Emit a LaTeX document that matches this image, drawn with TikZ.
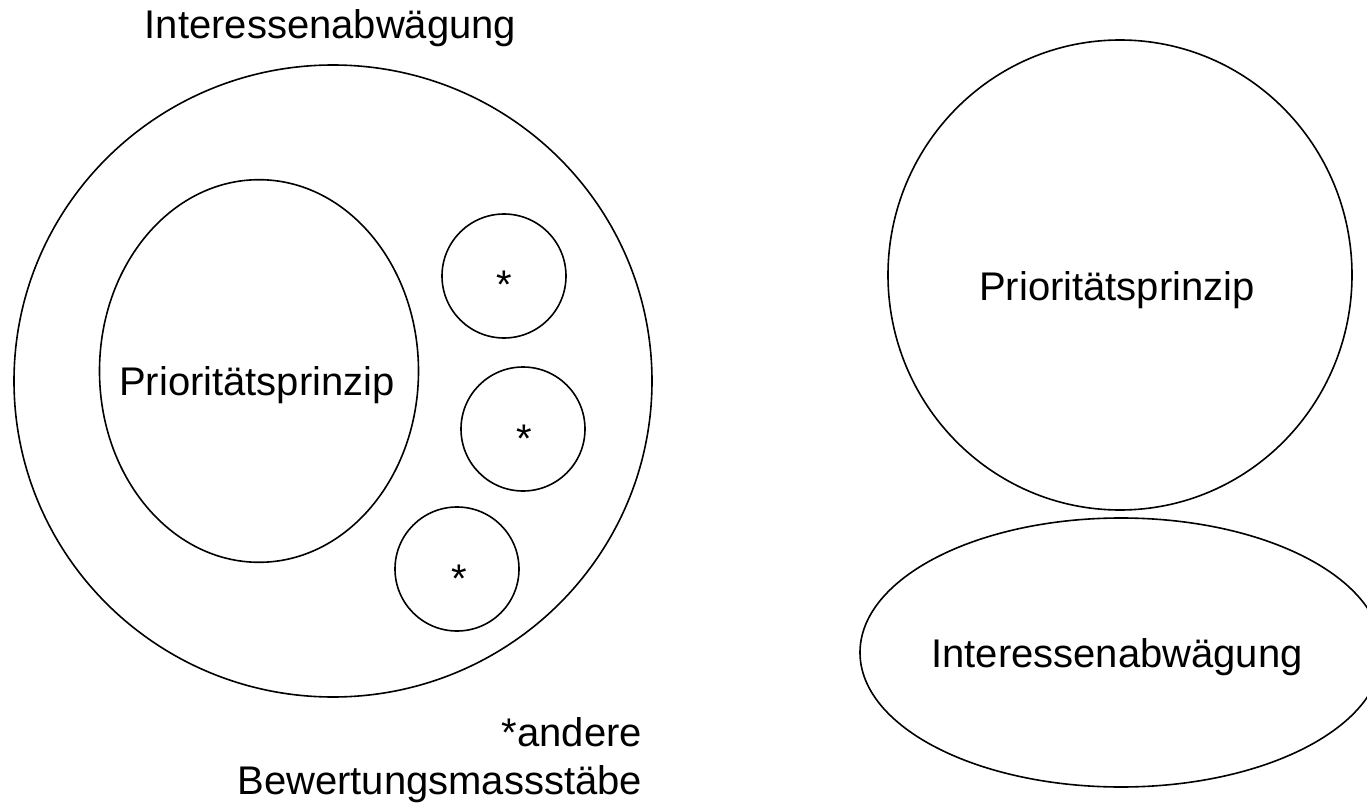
\documentclass[tikz,border=0pt]{standalone}
\usepackage{fontspec}
\setmainfont{Liberation Sans}
\usetikzlibrary{shapes.geometric}
\begin{document}
\begin{tikzpicture}[x=0.5pt,y=-0.5pt,
  ring/.style={draw=black, line width=0.8pt, ellipse, inner sep=0pt, outer sep=0pt},
  lbl/.style={anchor=base, inner sep=0pt, outer sep=0pt, font=\fontsize{20pt}{24pt}\selectfont},
  star/.style={lbl, anchor=base}]
\useasboundingbox (0,0) rectangle (1367,808);
\fill[white] (0,0) rectangle (1367,808);
\clip (0,0) rectangle (1367,808);
% left group
\node[ring, minimum width=319pt, minimum height=316pt] (outer) at (333,381) {};
\node[ring, minimum width=159.5pt, minimum height=191.3pt] (prio) at (259,371) {};
\node[ring, minimum width=62pt, minimum height=62pt] (s1) at (504,276) {};
\node[ring, minimum width=62pt, minimum height=62pt] (s2) at (523,429) {};
\node[ring, minimum width=62pt, minimum height=62pt] (s3) at (457,569) {};
\node[star] (s1t) at ([yshift=-11.5pt]s1.center) {*};
\node[star] (s2t) at ([xshift=0.5pt,yshift=-11.5pt]s2.center) {*};
\node[star] (s3t) at ([xshift=1pt,yshift=-11.5pt]s3.center) {*};
\node[lbl] (title) at (330.5,39) {Interessenabwägung};
\node[lbl] (priot) at (257,395) {Prioritätsprinzip};
\node[lbl, anchor=base east] (note1) at (642,746) {*andere};
\node[lbl, anchor=base east] (note2) at (642,794) {Bewertungsmassstäbe};
% right group
\node[ring, minimum width=232pt, minimum height=235pt] (rprio) at (1120,275) {};
\node[ring, minimum width=261pt, minimum height=134.5pt] (rint) at (1121,652.5) {};
\node[lbl] (rpriot) at (1117,300) {Prioritätsprinzip};
\node[lbl] (rintt) at (1117,667) {Interessenabwägung};
\end{tikzpicture}
\end{document}
